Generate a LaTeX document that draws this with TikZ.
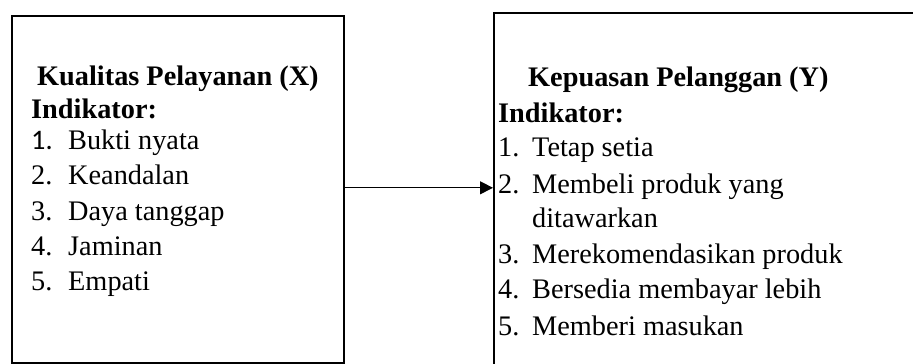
\documentclass[tikz,border=0pt]{standalone}
\usepackage{fontspec}
\setmainfont{Liberation Serif}
\newfontfamily\numfont{Carlito}
\usetikzlibrary{arrows.meta}
\begin{document}
\begin{tikzpicture}[x=1pt,y=-1pt,
  box/.style={draw=black,line width=1.6pt,rectangle,anchor=north west,inner sep=0pt},
  txt/.style={anchor=base west,inner sep=0pt,font=\fontsize{28.3}{35}\selectfont},
  head/.style={txt,font=\fontsize{28.3}{35}\selectfont\bfseries},
  link/.style={line width=1pt,-{Triangle[length=13pt,width=13pt]}}]
\useasboundingbox (0,0) rectangle (913,364);
\clip (0,0) rectangle (913,364);
\fill[white] (0,0) rectangle (913,364);

% boxes
\node[box,minimum width=332pt,minimum height=347pt] (lbox) at (11,15) {};
\node[box,minimum width=440pt,minimum height=365pt] (rbox) at (493,12) {};

% left box text
\node[head] (ltitle) at (37,85) {Kualitas Pelayanan (X)};
\node[head] (lind) at (31,118) {Indikator:};
\node[txt] (ln1) at (31,149) {\numfont 1.};
\node[txt] (li1) at (68,149) {Bukti nyata};
\node[txt] (ln2) at (31,184.5) {2.};
\node[txt] (li2) at (68,184.5) {Keandalan};
\node[txt] (ln3) at (31,220) {3.};
\node[txt] (li3) at (68,220) {Daya tanggap};
\node[txt] (ln4) at (31,255) {4.};
\node[txt] (li4) at (68,255) {Jaminan};
\node[txt] (ln5) at (31,290) {5.};
\node[txt] (li5) at (68,290) {Empati};

% right box text
\node[head] (rtitle) at (528,86) {Kepuasan Pelanggan (Y)};
\node[head] (rind) at (498,122) {Indikator:};
\node[txt] (rn1) at (498,156) {1.};
\node[txt] (ri1) at (532,156) {Tetap setia};
\node[txt] (rn2) at (498,193) {2.};
\node[txt] (ri2) at (532,193) {Membeli produk yang};
\node[txt] (ri2b) at (532,227) {ditawarkan};
\node[txt] (rn3) at (498,263) {3.};
\node[txt] (ri3) at (532,263) {Merekomendasikan produk};
\node[txt] (rn4) at (498,298) {4.};
\node[txt] (ri4) at (532,298) {Bersedia membayar lebih};
\node[txt] (rn5) at (498,335) {5.};
\node[txt] (ri5) at (532,335) {Memberi masukan};

% connector
\draw[link] ([yshift=1.5pt]lbox.east) -- ([yshift=1.5pt]lbox.east -| rbox.west);
\end{tikzpicture}
\end{document}
